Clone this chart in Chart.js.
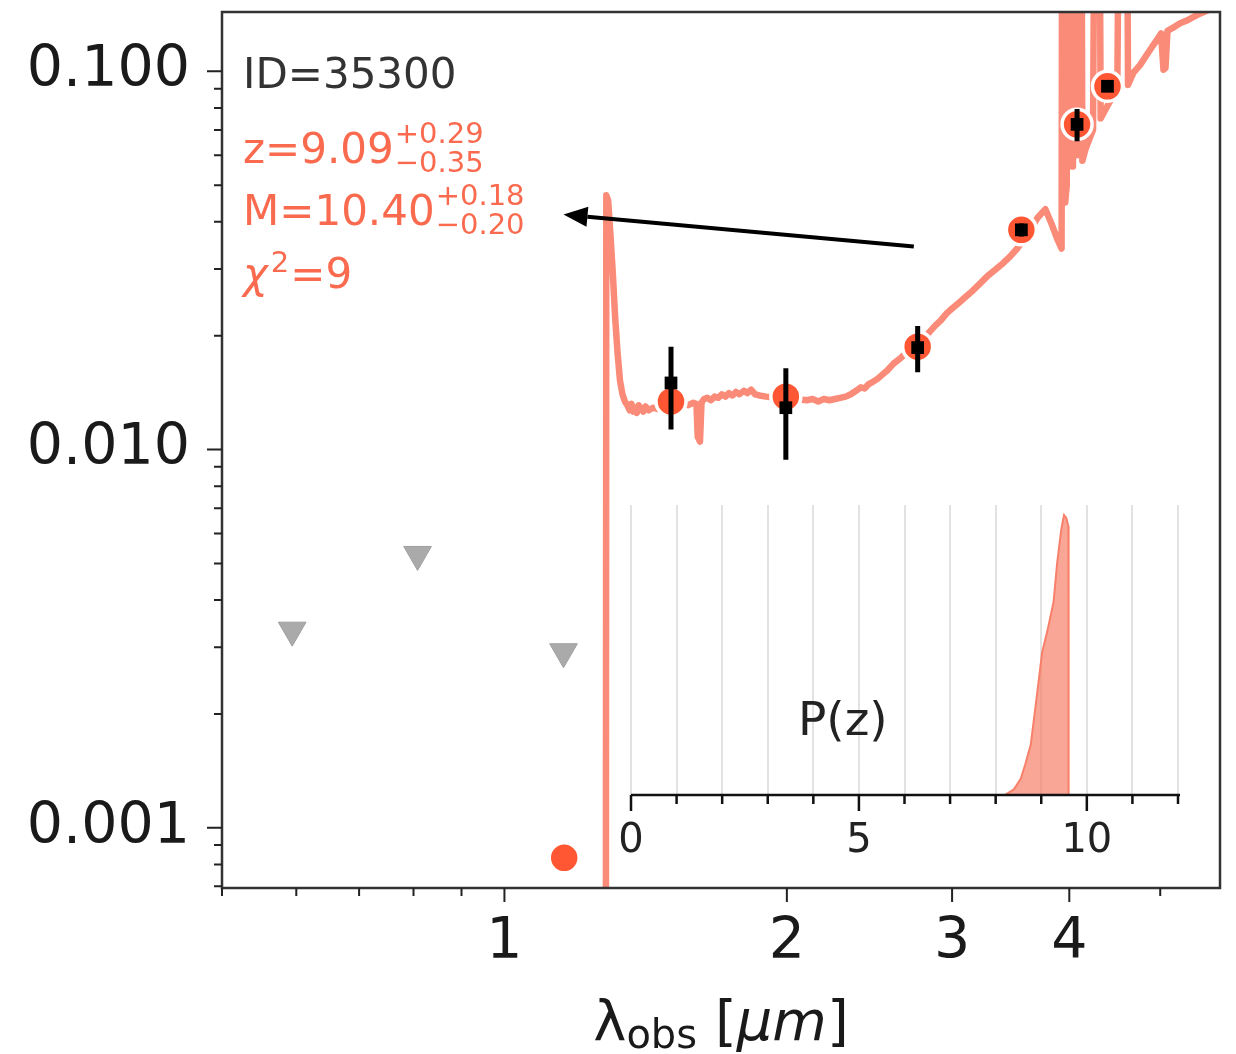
<!DOCTYPE html>
<html>
<head>
<meta charset="utf-8">
<script src="https://cdn.jsdelivr.net/npm/chart.js@4.4.0/dist/chart.umd.min.js"></script>
<style>
    html, body { margin: 0; padding: 0; background: #fff; }
    #wrap { position: relative; width: 1236px; height: 1054px; }
    #sedChart { position: absolute; left: 0; top: 0; }
    #pzChart { position: absolute; left: 591px; top: 495px; }
</style>
</head>
<body>
<div id="wrap">
    <canvas id="sedChart" width="1236" height="1054"></canvas>
    <canvas id="pzChart" width="629" height="365"></canvas>
</div>
<script>
// best-fit template spectrum (micron, flux)
const sedWave = [1.270, 1.281, 1.284, 1.290, 1.298, 1.305, 1.312, 1.320, 1.328, 1.336,
    1.344, 1.352, 1.360, 1.366, 1.372, 1.378, 1.384, 1.390, 1.398, 1.406,
    1.414, 1.425, 1.440, 1.455, 1.470, 1.490, 1.510, 1.530, 1.550, 1.570,
    1.590, 1.602, 1.607, 1.616, 1.622, 1.632, 1.645, 1.660, 1.675, 1.690,
    1.705, 1.720, 1.735, 1.750, 1.765, 1.780, 1.800, 1.815, 1.832, 1.850,
    1.870, 1.900, 1.950, 2.000, 2.050, 2.100, 2.130, 2.160, 2.190, 2.220,
    2.250, 2.280, 2.310, 2.340, 2.370, 2.398, 2.420, 2.445, 2.470, 2.500,
    2.530, 2.560, 2.600, 2.640, 2.680, 2.720, 2.760, 2.800, 2.850, 2.880,
    2.920, 2.960, 3.000, 3.060, 3.100, 3.150, 3.200, 3.270, 3.330, 3.400,
    3.460, 3.520, 3.580, 3.640, 3.700, 3.772, 3.830, 3.880, 3.925, 3.932,
    3.952, 3.960, 3.975, 3.982, 4.004, 4.010, 4.030, 4.036, 4.064, 4.075,
    4.096, 4.118, 4.130, 4.160, 4.200, 4.240, 4.262, 4.302, 4.320, 4.380,
    4.440, 4.500, 4.528, 4.602, 4.620, 4.680, 4.760, 4.830, 4.900, 4.960,
    5.010, 5.040, 5.065, 5.090, 5.150, 5.250, 5.330, 5.420, 5.510, 5.650,
    5.790];
const sedFlux = [0.000001, 0.000001, 0.0470, 0.0455, 0.0360, 0.0290, 0.0225, 0.0180, 0.0152, 0.0140,
    0.0134, 0.0131, 0.0127, 0.0132, 0.0126, 0.0129, 0.0125, 0.0131, 0.0128, 0.0126,
    0.0130, 0.0127, 0.0129, 0.0128, 0.0130, 0.0129, 0.0131, 0.0130, 0.0132, 0.0131,
    0.0133, 0.0132, 0.0108, 0.0105, 0.0133, 0.0136, 0.0137, 0.0135, 0.0138, 0.0137,
    0.0140, 0.0138, 0.0141, 0.0139, 0.0142, 0.0140, 0.0143, 0.0141, 0.0144, 0.0140,
    0.0139, 0.0138, 0.0137, 0.0137, 0.0136, 0.0135, 0.0136, 0.0134, 0.0136, 0.0135,
    0.0136, 0.0137, 0.0138, 0.0140, 0.0143, 0.0146, 0.0145, 0.0149, 0.0151, 0.0154,
    0.0158, 0.0162, 0.0169, 0.0174, 0.0180, 0.0185, 0.0190, 0.0197, 0.0207, 0.0213,
    0.0220, 0.0229, 0.0236, 0.0246, 0.0253, 0.0262, 0.0272, 0.0287, 0.0298, 0.0311,
    0.0324, 0.0340, 0.0360, 0.0383, 0.0410, 0.0432, 0.0395, 0.0362, 0.0340, 0.7,
    0.7, 0.045, 0.050, 0.7, 0.7, 0.058, 0.056, 0.7, 0.7, 0.060,
    0.7, 0.7, 0.058, 0.062, 0.066, 0.070, 0.7, 0.7, 0.075, 0.080,
    0.085, 0.088, 0.7, 0.7, 0.092, 0.099, 0.104, 0.110, 0.116, 0.121,
    0.126, 0.101, 0.102, 0.128, 0.130, 0.134, 0.136, 0.139, 0.142, 0.146,
    0.150];

// model photometry in each band
const bandWave = [1.158, 1.505, 1.995, 2.757, 3.556, 4.077, 4.393];
const modelFlux = [0.000833, 0.0134, 0.0138, 0.0187, 0.0381, 0.0724, 0.0913];

// measured photometry
const obsWave = [1.505, 1.995, 2.757, 3.556, 4.077, 4.393];
const obsFlux = [0.0150, 0.0129, 0.0186, 0.0381, 0.0724, 0.0913];
const obsErr = [0.0037, 0.0035, 0.0026, 0.0015, 0.0071, 0.0020];

// non-detections (upper limits)
const limWave = [0.594, 0.808, 1.156];
const limFlux = [0.00333, 0.00528, 0.00292];

// redshift posterior
const pzZ = [8.20, 8.40, 8.55, 8.65, 8.77, 8.90, 9.02, 9.14, 9.27, 9.35, 9.44, 9.50, 9.55, 9.595, 9.60];
const pzProb = [0.0, 0.02, 0.058, 0.11, 0.18, 0.35, 0.51, 0.59, 0.69, 0.83, 0.95, 1.0, 0.99, 0.96, 0.0];

// axis ticks
const xTickValues = [0.5, 0.6, 0.7, 0.8, 0.9, 1, 2, 3, 4, 5];
const xTickLabels = ['', '', '', '', '', '1', '2', '3', '4', ''];
const yTickValues = [0.0007, 0.0008, 0.0009, 0.001, 0.002, 0.003, 0.004, 0.005, 0.006, 0.007, 0.008, 0.009,
    0.01, 0.02, 0.03, 0.04, 0.05, 0.06, 0.07, 0.08, 0.09, 0.1];
const yTickLabels = ['', '', '', '0.001', '', '', '', '', '', '', '', '',
    '0.010', '', '', '', '', '', '', '', '', '0.100'];
const pzTickValues = [0, 1, 2, 3, 4, 5, 6, 7, 8, 9, 10, 11, 12];
const pzTickLabels = ['0', '', '', '', '', '5', '', '', '', '', '10', '', ''];

// fit summary
const objId = '35300';
const zFit = ['9.09', '+0.29', '\u22120.35'];
const massFit = ['10.40', '+0.18', '\u22120.20'];
const chi2 = '9';
const arrowFrom = [2.731, 0.0344];
const arrowTo = [1.156, 0.0418];

const FONT = '"DejaVu Sans", sans-serif';
const FIT_COLOR = '#fa6a4e';

const sedPoints = sedWave.map((w, i) => ({ x: w, y: sedFlux[i] }));
const modelPoints = bandWave.map((w, i) => ({ x: w, y: modelFlux[i] }));
const obsPoints = obsWave.map((w, i) => ({ x: w, y: obsFlux[i] }));
const limPoints = limWave.map((w, i) => ({ x: w, y: limFlux[i] }));
const errSegments = [];
obsWave.forEach((w, i) => {
    errSegments.push({ x: w, y: obsFlux[i] - obsErr[i] });
    errSegments.push({ x: w, y: obsFlux[i] + obsErr[i] });
    errSegments.push({ x: w, y: null });
});

function drawScripted(ctx, x, y, base, sup, sub) {
    ctx.font = '42px ' + FONT;
    ctx.fillText(base, x, y);
    const w = ctx.measureText(base).width;
    ctx.font = '29px ' + FONT;
    ctx.fillText(sup, x + w + 1, y - 20);
    ctx.fillText(sub, x + w + 1, y + 9);
}

const sedDecor = {
    id: 'sedDecor',
    afterDatasetsDraw(chart) {
        const ctx = chart.ctx;
        const xs = chart.scales.x, ys = chart.scales.y;
        const x0 = xs.getPixelForValue(arrowFrom[0]), y0 = ys.getPixelForValue(arrowFrom[1]);
        const x1 = xs.getPixelForValue(arrowTo[0]), y1 = ys.getPixelForValue(arrowTo[1]);
        const ang = Math.atan2(y1 - y0, x1 - x0);
        const headLen = 24, headHalf = 10;
        const bx = x1 - Math.cos(ang) * headLen, by = y1 - Math.sin(ang) * headLen;
        ctx.save();
        ctx.strokeStyle = '#000';
        ctx.fillStyle = '#000';
        ctx.lineWidth = 4;
        ctx.beginPath();
        ctx.moveTo(x0, y0);
        ctx.lineTo(bx, by);
        ctx.stroke();
        ctx.beginPath();
        ctx.moveTo(x1, y1);
        ctx.lineTo(bx + Math.sin(ang) * headHalf, by - Math.cos(ang) * headHalf);
        ctx.lineTo(bx - Math.sin(ang) * headHalf, by + Math.cos(ang) * headHalf);
        ctx.closePath();
        ctx.fill();
        ctx.restore();
    },
    afterDraw(chart) {
        const ctx = chart.ctx;
        const area = chart.chartArea;
        const xs = chart.scales.x, ys = chart.scales.y;
        ctx.save();
        // frame
        ctx.strokeStyle = '#333';
        ctx.lineWidth = 2.5;
        ctx.strokeRect(area.left, area.top, area.right - area.left, area.bottom - area.top);
        // tick marks
        ctx.strokeStyle = '#222';
        ctx.lineWidth = 2;
        ctx.beginPath();
        xTickValues.forEach((v, i) => {
            const px = xs.getPixelForValue(v);
            const len = xTickLabels[i] ? 14 : 8;
            ctx.moveTo(px, area.bottom);
            ctx.lineTo(px, area.bottom + len);
        });
        yTickValues.forEach((v, i) => {
            const py = ys.getPixelForValue(v);
            const len = yTickLabels[i] ? 15 : 8;
            ctx.moveTo(area.left, py);
            ctx.lineTo(area.left - len, py);
        });
        ctx.stroke();

        // fit summary text
        ctx.textAlign = 'left';
        ctx.textBaseline = 'alphabetic';
        const tx = area.left + 21;
        ctx.fillStyle = '#333';
        ctx.font = '42px ' + FONT;
        ctx.fillText('ID=' + objId, tx, area.top + 76);
        ctx.fillStyle = FIT_COLOR;
        drawScripted(ctx, tx, area.top + 151, 'z=' + zFit[0], zFit[1], zFit[2]);
        drawScripted(ctx, tx, area.top + 213, 'M=' + massFit[0], massFit[1], massFit[2]);
        ctx.font = 'italic 42px ' + FONT;
        ctx.fillText('\u03c7', tx, area.top + 276);
        let cw = ctx.measureText('\u03c7').width;
        ctx.font = '29px ' + FONT;
        ctx.fillText('2', tx + cw + 3, area.top + 260);
        cw += ctx.measureText('2').width + 4;
        ctx.font = '42px ' + FONT;
        ctx.fillText('=' + chi2, tx + cw, area.top + 276);

        // x axis title: lambda_obs [um]
        const parts = [
            { t: '\u03bb', f: '56px ' + FONT, dy: 0 },
            { t: 'obs', f: '40px ' + FONT, dy: 8 },
            { t: ' [', f: '56px ' + FONT, dy: 0 },
            { t: '\u03bcm', f: 'italic 56px ' + FONT, dy: 0 },
            { t: ']', f: '56px ' + FONT, dy: 0 }
        ];
        let total = 0;
        parts.forEach(p => { ctx.font = p.f; p.w = ctx.measureText(p.t).width; total += p.w; });
        let cx = (area.left + area.right) / 2 - total / 2;
        ctx.fillStyle = '#1a1a1a';
        parts.forEach(p => {
            ctx.font = p.f;
            ctx.fillText(p.t, cx, 1040 + p.dy);
            cx += p.w;
        });
        ctx.restore();
    }
};

const sedChart = new Chart(document.getElementById('sedChart'), {
    type: 'scatter',
    data: {
        datasets: [
            {
                label: 'observed',
                data: obsPoints,
                pointStyle: 'rect',
                pointRadius: 9,
                pointBackgroundColor: '#000',
                pointBorderWidth: 0
            },
            {
                label: 'errors',
                data: errSegments,
                showLine: true,
                spanGaps: false,
                pointRadius: 0,
                borderColor: '#000',
                borderWidth: 5
            },
            {
                label: 'model',
                data: modelPoints,
                pointRadius: 15,
                pointBackgroundColor: '#ff5733',
                pointBorderColor: '#fff',
                pointBorderWidth: 3.5
            },
            {
                label: 'limits',
                data: limPoints,
                pointStyle: 'triangle',
                pointRotation: 180,
                pointRadius: 16,
                pointBackgroundColor: '#aaaaaa',
                pointBorderColor: '#a0a0a0',
                pointBorderWidth: 1
            },
            {
                label: 'template',
                data: sedPoints,
                showLine: true,
                pointRadius: 0,
                borderColor: '#fa8b78',
                borderWidth: 6.5,
                borderJoinStyle: 'round',
                clip: 0
            }
        ]
    },
    options: {
        animation: false,
        responsive: false,
        devicePixelRatio: 1,
        events: [],
        layout: { autoPadding: false, padding: { top: 12, right: 16, left: 0, bottom: 0 } },
        plugins: { legend: { display: false }, tooltip: { enabled: false } },
        scales: {
            x: {
                type: 'logarithmic',
                min: 0.5,
                max: 5.79,
                afterBuildTicks: s => { s.ticks = xTickValues.map(v => ({ value: v })); },
                afterFit: s => { s.height = 166; s.paddingLeft = 0; s.paddingRight = 0; },
                grid: { display: false, drawTicks: false },
                border: { display: false },
                ticks: {
                    autoSkip: false,
                    maxRotation: 0,
                    padding: 21,
                    color: '#1a1a1a',
                    font: { family: FONT, size: 57 },
                    callback: (v, i) => xTickLabels[i]
                }
            },
            y: {
                type: 'logarithmic',
                min: 0.000693,
                max: 0.1435,
                afterBuildTicks: s => { s.ticks = yTickValues.map(v => ({ value: v })); },
                afterFit: s => { s.width = 222; s.paddingTop = 0; s.paddingBottom = 0; },
                grid: { display: false, drawTicks: false },
                border: { display: false },
                ticks: {
                    autoSkip: false,
                    padding: 32,
                    color: '#1a1a1a',
                    font: { family: FONT, size: 57 },
                    callback: (v, i) => yTickLabels[i]
                }
            }
        }
    },
    plugins: [sedDecor]
});

const pzDecor = {
    id: 'pzDecor',
    afterDraw(chart) {
        const ctx = chart.ctx;
        const area = chart.chartArea;
        const xs = chart.scales.x;
        ctx.save();
        ctx.strokeStyle = '#111';
        ctx.lineWidth = 2.5;
        ctx.beginPath();
        ctx.moveTo(area.left, area.bottom);
        ctx.lineTo(area.right + 2, area.bottom);
        pzTickValues.forEach((v, i) => {
            const px = xs.getPixelForValue(v);
            ctx.moveTo(px, area.bottom);
            ctx.lineTo(px, area.bottom + (pzTickLabels[i] ? 16 : 9));
        });
        ctx.stroke();
        ctx.fillStyle = '#222';
        ctx.font = '47px ' + FONT;
        ctx.textAlign = 'left';
        ctx.textBaseline = 'alphabetic';
        ctx.fillText('P(z)', area.left + 167, area.top + 230);
        ctx.restore();
    }
};

const pzChart = new Chart(document.getElementById('pzChart'), {
    type: 'line',
    data: {
        datasets: [{
            data: pzZ.map((z, i) => ({ x: z, y: pzProb[i] })),
            borderColor: '#f8806a',
            backgroundColor: 'rgba(247, 128, 106, 0.7)',
            borderWidth: 2,
            pointRadius: 0,
            fill: 'origin',
            tension: 0
        }]
    },
    options: {
        animation: false,
        responsive: false,
        devicePixelRatio: 1,
        events: [],
        layout: { autoPadding: false, padding: { top: 10, left: 40, right: 42, bottom: 0 } },
        plugins: { legend: { display: false }, tooltip: { enabled: false } },
        scales: {
            x: {
                type: 'linear',
                min: 0,
                max: 12,
                afterBuildTicks: s => { s.ticks = pzTickValues.map(v => ({ value: v })); },
                afterFit: s => { s.height = 65; s.paddingLeft = 0; s.paddingRight = 0; },
                grid: { color: '#e2e2e2', lineWidth: 2, drawTicks: false },
                border: { display: false },
                ticks: {
                    autoSkip: false,
                    maxRotation: 0,
                    padding: 23,
                    color: '#222',
                    font: { family: FONT, size: 40 },
                    callback: (v, i) => pzTickLabels[i]
                }
            },
            y: {
                display: false,
                min: 0,
                max: 1.036
            }
        }
    },
    plugins: [pzDecor]
});
</script>
</body>
</html>
